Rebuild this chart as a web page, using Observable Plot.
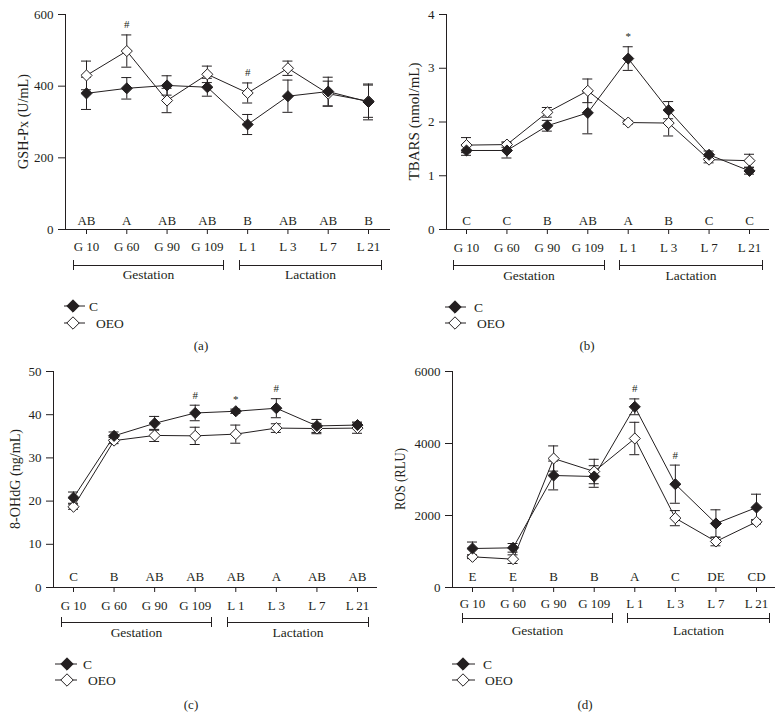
<!DOCTYPE html>
<html>
<head>
<meta charset="utf-8">
<script src="https://cdn.jsdelivr.net/npm/d3@7"></script>
<script src="https://cdn.jsdelivr.net/npm/@observablehq/plot@0.6"></script>
<style>
  html, body { margin: 0; padding: 0; background: #fff; }
  #root { position: relative; width: 784px; height: 718px; overflow: hidden; font-family: 'Liberation Serif', 'DejaVu Serif', serif; color: #231f20; }
  .panel { position: absolute; }
  .cap { position: absolute; font-size: 13px; transform: translate(-50%, -50%); white-space: nowrap; }
  .leg { position: absolute; left: 0; top: 0; overflow: visible; }
</style>
</head>
<body>
<div id="root"></div>
<script>
// ---------- data ----------
const categories = ["G 10", "G 60", "G 90", "G 109", "L 1", "L 3", "L 7", "L 21"];
const seriesNames = ["C", "OEO"];
const phases = ["Gestation", "Lactation"];

// (a) GSH-Px (U/mL)
const gshC     = [380, 394, 402, 397, 293, 372, 385, 356];
const gshCse   = [45, 30, 27, 25, 28, 45, 40, 50];
const gshO     = [430, 498, 360, 433, 381, 450, 379, 358];
const gshOse   = [40, 45, 34, 23, 28, 20, 35, 45];
const gshLetters = ["AB", "A", "AB", "AB", "B", "AB", "AB", "B"];
const gshSig   = ["", "#", "", "", "#", "", "", ""];
const gshTicks = [0, 200, 400, 600];

// (b) TBARS (nmol/mL)
const tbC      = [1.47, 1.47, 1.93, 2.17, 3.18, 2.22, 1.39, 1.09];
const tbCse    = [0.09, 0.14, 0.10, 0.39, 0.22, 0.16, 0.07, 0.06];
const tbO      = [1.57, 1.58, 2.18, 2.58, 1.99, 1.98, 1.30, 1.28];
const tbOse    = [0.14, 0.05, 0.09, 0.22, 0.03, 0.24, 0.06, 0.12];
const tbLetters = ["C", "C", "B", "AB", "A", "B", "C", "C"];
const tbSig    = ["", "", "", "", "*", "", "", ""];
const tbTicks  = [0, 1, 2, 3, 4];

// (c) 8-OHdG (ng/mL)
const ohC      = [20.8, 35.1, 38.0, 40.4, 40.8, 41.5, 37.4, 37.6];
const ohCse    = [1.3, 0.9, 1.6, 1.8, 0.5, 2.2, 1.5, 0.7];
const ohO      = [18.7, 34.0, 35.2, 35.1, 35.5, 36.9, 36.8, 36.9];
const ohOse    = [0.6, 0.7, 1.4, 2.0, 2.1, 1.0, 1.2, 1.2];
const ohLetters = ["C", "B", "AB", "AB", "AB", "A", "AB", "AB"];
const ohSig    = ["", "", "", "#", "*", "#", "", ""];
const ohTicks  = [0, 10, 20, 30, 40, 50];

// (d) ROS (RLU)
const rosC     = [1083, 1102, 3111, 3083, 5019, 2870, 1778, 2222];
const rosCse   = [180, 120, 400, 300, 220, 530, 380, 370];
const rosO     = [852, 787, 3583, 3222, 4139, 1926, 1278, 1824];
const rosOse   = [50, 120, 350, 340, 450, 210, 120, 60];
const rosLetters = ["E", "E", "B", "B", "A", "C", "DE", "CD"];
const rosSig   = ["", "", "", "", "#", "#", "", ""];
const rosTicks = [0, 2000, 4000, 6000];

// ---------- layout ----------
const FONT = "'Liberation Serif', 'DejaVu Serif', serif";
const INK = "#231f20";
const root = document.getElementById("root");
const ns = "http://www.w3.org/2000/svg";
const overlay = document.createElementNS(ns, "svg");
overlay.setAttribute("class", "leg");
overlay.setAttribute("width", 784);
overlay.setAttribute("height", 718);
overlay.style.position = "absolute";

function svgEl(tag, attrs, text) {
  const el = document.createElementNS(ns, tag);
  for (const k in attrs) el.setAttribute(k, attrs[k]);
  if (text != null) el.textContent = text;
  overlay.appendChild(el);
  return el;
}

function makePanel(p) {
  const W = 392;
  const step = (p.last - p.first) / 7;
  const toIdx = px => (px - p.first) / step;
  const xmin = toIdx(p.axisL), xmax = toIdx(p.axisR);
  const ymax = p.ticks[p.ticks.length - 1];
  const k = ymax / (p.yBot - p.yTop);
  const cap = 5 / step;
  const rows = categories.map((cat, i) => ({
    i, cat, c: p.c[i], cse: p.cse[i], o: p.o[i], ose: p.ose[i],
    letter: p.letters[i], sig: p.sig[i],
    top: Math.max(p.c[i] + p.cse[i], p.o[i] + p.ose[i])
  }));
  const brackets = [
    {x1: toIdx(p.gest[0]), x2: toIdx(p.gest[1]), label: phases[0]},
    {x1: toIdx(p.lact[0]), x2: toIdx(p.lact[1]), label: phases[1]}
  ];
  const ends = brackets.flatMap(b => [b.x1, b.x2]);
  const errMarks = (m, s) => [
    Plot.ruleX(rows, {x: "i", y1: d => d[m] - d[s], y2: d => d[m] + d[s], stroke: INK, strokeWidth: 1}),
    Plot.ruleY(rows, {y: d => d[m] + d[s], x1: d => d.i - cap, x2: d => d.i + cap, stroke: INK, strokeWidth: 1}),
    Plot.ruleY(rows, {y: d => d[m] - d[s], x1: d => d.i - cap, x2: d => d.i + cap, stroke: INK, strokeWidth: 1})
  ];
  const chart = Plot.plot({
    width: W,
    height: p.h,
    marginLeft: p.axisL - p.left,
    marginRight: p.left + W - p.axisR,
    marginTop: p.yTop - p.top,
    marginBottom: p.top + p.h - p.yBot,
    x: {type: "linear", domain: [xmin, xmax]},
    y: {type: "linear", domain: [0, ymax]},
    style: {fontFamily: FONT, fontSize: "13px", color: INK, background: "transparent", overflow: "visible"},
    marks: [
      Plot.ruleX([xmin], {y1: 0, y2: ymax, stroke: INK, strokeWidth: 1}),
      Plot.ruleY([0], {x1: xmin, x2: xmax, stroke: INK, strokeWidth: 1}),
      Plot.axisY({ticks: p.ticks, tickSize: 7, tickPadding: 5, label: null, tickFormat: d => String(d)}),
      Plot.axisX({ticks: d3.range(categories.length), tickFormat: i => categories[i], tickSize: 5, tickPadding: p.xPad, label: null}),
      ...errMarks("o", "ose"),
      ...errMarks("c", "cse"),
      Plot.lineY(rows, {x: "i", y: "o", stroke: INK, strokeWidth: 1}),
      Plot.lineY(rows, {x: "i", y: "c", stroke: INK, strokeWidth: 1}),
      Plot.dot(rows, {x: "i", y: "o", symbol: "diamond2", r: 5, fill: "white", stroke: INK, strokeWidth: 1}),
      Plot.dot(rows, {x: "i", y: "c", symbol: "diamond2", r: 5, fill: INK, stroke: INK, strokeWidth: 1}),
      Plot.text(rows, {x: "i", y: () => 0, dy: -p.letDy, text: "letter", lineAnchor: "middle", fontSize: 13}),
      Plot.text(rows.filter(d => d.sig), {x: "i", y: "top", dy: -10, text: "sig", lineAnchor: "middle", fontSize: 11, fill: INK}),
      Plot.ruleY(brackets, {y: () => -p.brk * k, x1: "x1", x2: "x2", stroke: INK, strokeWidth: 1}),
      Plot.ruleX(ends, {x: d => d, y1: () => -(p.brk - 5) * k, y2: () => -(p.brk + 5) * k, stroke: INK, strokeWidth: 1}),
      Plot.text(brackets, {x: d => (d.x1 + d.x2) / 2, y: () => -p.phase * k, text: "label", lineAnchor: "middle", fontSize: 13.5})
    ]
  });
  const wrap = document.createElement("div");
  wrap.className = "panel";
  wrap.style.left = p.left + "px";
  wrap.style.top = p.top + "px";
  wrap.appendChild(chart);
  root.appendChild(wrap);

  // y-axis title (rotated)
  const cy = (p.yTop + p.yBot) / 2;
  const cx = p.axisL - p.ylabOff;
  svgEl("text", {
    transform: `translate(${cx},${cy}) rotate(-90)`,
    "text-anchor": "middle", "dominant-baseline": "central",
    "font-family": FONT, "font-size": 14, fill: INK,
    textLength: p.ylabLen, lengthAdjust: "spacingAndGlyphs"
  }, p.ylabel);

  // legend
  const L = p.legend;
  seriesNames.forEach((name, j) => {
    const y = L.ys[j];
    svgEl("line", {x1: L.x0, x2: L.x1, y1: y, y2: y, stroke: INK, "stroke-width": 1});
    const s = 6.2;
    svgEl("polygon", {
      points: `${L.xm},${y - s} ${L.xm + s},${y} ${L.xm},${y + s} ${L.xm - s},${y}`,
      fill: j === 0 ? INK : "white", stroke: INK
    });
    svgEl("text", {x: L.tx[j], y, "dominant-baseline": "central", "font-family": FONT, "font-size": 13.5, fill: INK}, name);
  });

  svgEl("text", {x: p.capXY[0], y: p.capXY[1], "text-anchor": "middle", "dominant-baseline": "central",
    "font-family": FONT, "font-size": 13, fill: INK}, p.caption);
}

makePanel({
  left: 0, top: 0, h: 330,
  axisL: 65, first: 86, last: 368, axisR: 390, yTop: 14, yBot: 229,
  ticks: gshTicks, c: gshC, cse: gshCse, o: gshO, ose: gshOse, letters: gshLetters, sig: gshSig,
  ylabel: "GSH-Px (U/mL)", ylabOff: 42, ylabLen: 95, xPad: 7, letDy: 9,
  gest: [73, 223], lact: [239, 381], brk: 36, phase: 45,
  legend: {x0: 64, x1: 85, xm: 73, ys: [306, 323], tx: [89, 96]},
  caption: "(a)", capXY: [201, 345]
});
makePanel({
  left: 392, top: 0, h: 330,
  axisL: 446, first: 466, last: 749, axisR: 769, yTop: 14, yBot: 229,
  ticks: tbTicks, c: tbC, cse: tbCse, o: tbO, ose: tbOse, letters: tbLetters, sig: tbSig,
  ylabel: "TBARS (nmol/mL)", ylabOff: 32, ylabLen: 118, xPad: 8, letDy: 9,
  gest: [453, 604], lact: [619, 762], brk: 36, phase: 46,
  legend: {x0: 445, x1: 466, xm: 455, ys: [307, 323], tx: [474, 477]},
  caption: "(b)", capXY: [587, 345]
});
makePanel({
  left: 0, top: 357, h: 330,
  axisL: 53, first: 73, last: 357, axisR: 377, yTop: 371, yBot: 587,
  ticks: ohTicks, c: ohC, cse: ohCse, o: ohO, ose: ohOse, letters: ohLetters, sig: ohSig,
  ylabel: "8-OHdG (ng/mL)", ylabOff: 38, ylabLen: 100, xPad: 8, letDy: 11,
  gest: [61, 211], lact: [227, 368], brk: 35, phase: 45,
  legend: {x0: 55, x1: 77, xm: 67, ys: [664, 680], tx: [83, 88]},
  caption: "(c)", capXY: [191, 704]
});
makePanel({
  left: 392, top: 357, h: 330,
  axisL: 452, first: 472, last: 756, axisR: 775, yTop: 371, yBot: 587,
  ticks: rosTicks, c: rosC, cse: rosCse, o: rosO, ose: rosOse, letters: rosLetters, sig: rosSig,
  ylabel: "ROS (RLU)", ylabOff: 52, ylabLen: 62, xPad: 6, letDy: 11,
  gest: [462, 612], lact: [627, 769], brk: 31, phase: 43,
  legend: {x0: 452, x1: 475, xm: 463, ys: [664, 680], tx: [483, 485]},
  caption: "(d)", capXY: [585, 704]
});
root.appendChild(overlay);
</script>
</body>
</html>
